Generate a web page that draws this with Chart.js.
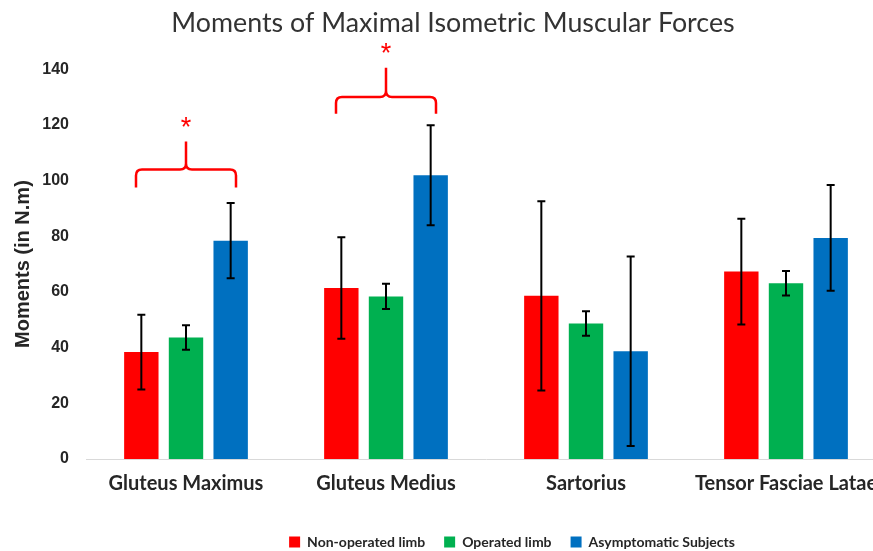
<!DOCTYPE html>
<html>
<head>
	<meta charset="utf-8">
	<title>Moments of Maximal Isometric Muscular Forces</title>
	<style>
		body { margin: 0; overflow: hidden; background: #fff; }
		#wrap { width: 906px; height: 551px; }
	</style>
</head>
<body>
	<div id="wrap"><canvas id="myChart"></canvas></div>
	<script type="text/javascript" src="https://cdn.jsdelivr.net/npm/chart.js@4.4.0/dist/chart.umd.min.js"></script>
	<script type="text/javascript">
		// muscles on the x axis
		const categories = ["Gluteus Maximus", "Gluteus Medius", "Sartorius", "Tensor Fasciae Latae"];

		// mean moments (N.m) and standard deviations
		const nonOperated = [38.4, 61.4, 58.6, 67.3];
		const nonOperatedSD = [13.4, 18.2, 34.0, 19.0];
		const operated = [43.6, 58.4, 48.7, 63.1];
		const operatedSD = [4.4, 4.5, 4.4, 4.4];
		const asymptomatic = [78.4, 101.9, 38.7, 79.4];
		const asymptomaticSD = [13.5, 18.0, 34.0, 19.0];

		const yMin = 0, yMax = 140, yStep = 20;

		// significance brackets (values in N.m)
		const sigCategories = [0, 1];
		const sigBase = [97.5, 124];
		const sigBar = [104, 130];
		const sigPeak = [114, 140.5];
		const sigStar = [120.5, 147];

		const errorBars = {
			id: "errorBars",
			afterDatasetsDraw(chart) {
				const ctx = chart.ctx;
				const y = chart.scales.y;
				ctx.save();
				ctx.strokeStyle = "#000";
				ctx.lineWidth = 2;
				chart.data.datasets.forEach((ds, i) => {
					chart.getDatasetMeta(i).data.forEach((bar, j) => {
						let hi = y.getPixelForValue(ds.data[j] + ds.sd[j]);
						let lo = y.getPixelForValue(ds.data[j] - ds.sd[j]);
						ctx.beginPath();
						ctx.moveTo(bar.x, hi);
						ctx.lineTo(bar.x, lo);
						ctx.moveTo(bar.x - 4, hi);
						ctx.lineTo(bar.x + 4, hi);
						ctx.moveTo(bar.x - 4, lo);
						ctx.lineTo(bar.x + 4, lo);
						ctx.stroke();
					});
				});
				ctx.restore();
			}
		};

		const sigBrackets = {
			id: "sigBrackets",
			afterDraw(chart) {
				const ctx = chart.ctx;
				const x = chart.scales.x, y = chart.scales.y;
				const half = (x.getPixelForValue(1) - x.getPixelForValue(0)) / 4;
				const r = 6;
				ctx.save();
				ctx.strokeStyle = "#ff0000";
				ctx.fillStyle = "#ff0000";
				ctx.lineWidth = 2.5;
				sigCategories.forEach((c, k) => {
					let cx = x.getPixelForValue(c);
					let yb = y.getPixelForValue(sigBase[k]);
					let yh = y.getPixelForValue(sigBar[k]);
					let yp = y.getPixelForValue(sigPeak[k]);
					ctx.beginPath();
					// left arm
					ctx.moveTo(cx - half, yb);
					ctx.lineTo(cx - half, yh + r);
					ctx.quadraticCurveTo(cx - half, yh, cx - half + r, yh);
					ctx.lineTo(cx - r, yh);
					ctx.quadraticCurveTo(cx, yh, cx, yh - r);
					ctx.lineTo(cx, yp);
					// right arm
					ctx.moveTo(cx + half, yb);
					ctx.lineTo(cx + half, yh + r);
					ctx.quadraticCurveTo(cx + half, yh, cx + half - r, yh);
					ctx.lineTo(cx + r, yh);
					ctx.quadraticCurveTo(cx, yh, cx, yh - r);
					ctx.stroke();
					ctx.font = "27px 'Liberation Sans'";
					ctx.textAlign = "center";
					ctx.textBaseline = "middle";
					ctx.fillText("*", cx, y.getPixelForValue(sigStar[k]) + 5);
				});
				ctx.restore();
			}
		};

		// nudge the legend to the right, as in the original figure
		const legendShift = {
			id: "legendShift",
			afterLayout(chart) {
				chart.legend.left += 59;
				chart.legend.right += 59;
			}
		};

		Chart.defaults.font.family = "Lato";
		Chart.defaults.color = "#262626";

		let ctx = document.getElementById("myChart").getContext("2d");
		let config = {
			type: "bar",
			data: {
				labels: categories,
				datasets: [
					{ label: "Non-operated limb", data: nonOperated, sd: nonOperatedSD, backgroundColor: "#ff0000" },
					{ label: "Operated limb", data: operated, sd: operatedSD, backgroundColor: "#00b050" },
					{ label: "Asymptomatic Subjects", data: asymptomatic, sd: asymptomaticSD, backgroundColor: "#0070c0" },
				],
			},
			options: {
				responsive: true,
				maintainAspectRatio: false,
				animation: false,
				layout: { padding: { left: 20, right: 20, top: 0, bottom: -8 } },
				datasets: { bar: { categoryPercentage: 0.67, barPercentage: 0.77 } },
				plugins: {
					title: {
						display: true,
						text: "Moments of Maximal Isometric Muscular Forces",
						color: "#333",
						font: { size: 26.8, weight: "normal" },
						padding: { top: 7, bottom: 30 },
					},
					legend: {
						position: "bottom",
						labels: {
							boxWidth: 11,
							boxHeight: 11,
							padding: 19,
							font: { size: 14, weight: "bold" },
						},
					},
					tooltip: { enabled: false },
				},
				scales: {
					x: {
						grid: { display: false, drawTicks: false },
						border: { display: true, color: "#d9d9d9", width: 1 },
						ticks: { padding: 13, font: { size: 20, weight: "bold" }, maxRotation: 0 },
						afterFit(s) { s.height = s.chart.height + 8 - 459 - s.chart.legend.height; },
					},
					y: {
						min: yMin,
						max: yMax,
						ticks: { stepSize: yStep, padding: 17, font: { family: "'Liberation Sans'", size: 16, weight: "bold" } },
						grid: { display: false, drawTicks: false },
						border: { display: false },
						title: {
							display: true,
							text: "Moments (in N.m)",
							font: { family: "'Liberation Sans'", size: 20, weight: "bold" },
							padding: { top: -9, bottom: 0 },
						},
						afterFit(s) { s.width = 66; },
					},
				},
			},
			plugins: [errorBars, sigBrackets, legendShift],
		};

		let myChart = new Chart(ctx, config);
	</script>
</body>
</html>
